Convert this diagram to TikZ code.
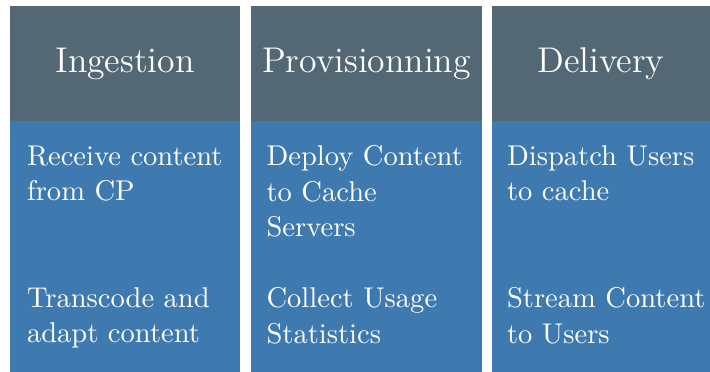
\documentclass[tikz,border=0pt]{standalone}
\definecolor{headgray}{RGB}{83,104,116}
\definecolor{bodyblue}{RGB}{62,122,176}
\def\pxu{0.3555pt}

\begin{document}
\begin{tikzpicture}[x=\pxu, y=-\pxu]
\useasboundingbox (0,0) rectangle (710,372);

\begin{scope}[every node/.style={rectangle,inner sep=0pt,outer sep=0pt,anchor=north west,text=white}]
    \node (head1) at (10, 6) [fill=headgray,minimum width=230*\pxu,minimum height=115*\pxu,font=\fontsize{12.7}{15}\selectfont] {Ingestion};
    \node (head2) at (251, 6) [fill=headgray,minimum width=231*\pxu,minimum height=115*\pxu,font=\fontsize{12.7}{15}\selectfont] {Provisionning};
    \node (head3) at (492, 6) [fill=headgray,minimum width=218*\pxu,minimum height=115*\pxu,font=\fontsize{12.7}{15}\selectfont] {Delivery};

    \node (body1) at (head1.south west) [fill=bodyblue,minimum width=230*\pxu,minimum height=251*\pxu] {};
    \node (body2) at (head2.south west) [fill=bodyblue,minimum width=231*\pxu,minimum height=251*\pxu] {};
    \node (body3) at (head3.south west) [fill=bodyblue,minimum width=218*\pxu,minimum height=251*\pxu] {};
\end{scope}

\begin{scope}[every node/.style={inner sep=0pt,anchor=north west,align=left,text=white,font=\fontsize{10.15}{12.6}\selectfont}]
    \node (receive) at (26.5, 145) {Receive content\\from CP};
    \node (transcode) at (26.5, 287) {Transcode and\\adapt content};

    \node (deploy) at (266, 145) {Deploy Content\\to Cache\\Servers};
    \node (collect) at (266, 287) {Collect Usage\\Statistics};

    \node (dispatch) at (506.5, 145) {Dispatch Users\\to cache};
    \node (stream) at (506.5, 287) {Stream Content\\to Users};
\end{scope}
\end{tikzpicture}
\end{document}
